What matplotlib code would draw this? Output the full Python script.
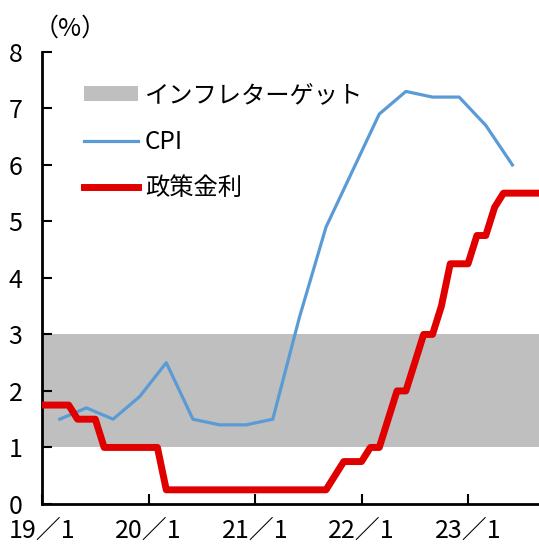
import matplotlib.pyplot as plt
from matplotlib.patches import Patch
from matplotlib.lines import Line2D

plt.rcParams['font.family'] = ['Noto Sans CJK JP', 'DejaVu Sans']

# months counted from 2019/1 (= 0)
cpi_month = [2, 5, 8, 11, 14, 17, 20, 23, 26, 29, 32, 35, 38, 41, 44, 47, 50, 53]
cpi = [1.5, 1.7, 1.5, 1.9, 2.5, 1.5, 1.4, 1.4, 1.5, 3.3, 4.9, 5.9,
       6.9, 7.3, 7.2, 7.2, 6.7, 6.0]

# policy rate, monthly 2019/1 - 2023/9
rate = [1.75, 1.75, 1.75, 1.75, 1.5, 1.5, 1.5, 1.0, 1.0, 1.0, 1.0, 1.0,
        1.0, 1.0, 0.25, 0.25, 0.25, 0.25, 0.25, 0.25, 0.25, 0.25, 0.25, 0.25,
        0.25, 0.25, 0.25, 0.25, 0.25, 0.25, 0.25, 0.25, 0.25, 0.5, 0.75, 0.75,
        0.75, 1.0, 1.0, 1.5, 2.0, 2.0, 2.5, 3.0, 3.0, 3.5, 4.25, 4.25,
        4.25, 4.75, 4.75, 5.25, 5.5, 5.5, 5.5, 5.5, 5.5]
rate_month = list(range(len(rate)))

target_low, target_high = 1, 3
tick_pos = [0, 12, 24, 36, 48]
tick_labels = ['19／1', '20／1', '21／1', '22／1', '23／1']

fig = plt.figure(figsize=(5.39, 5.46), dpi=100)
ax = fig.add_axes([0.078, 0.077, 0.922, 0.828])

ax.axhspan(target_low, target_high, color='#bfbfbf', lw=0, zorder=1)
ax.plot(cpi_month, cpi, color='#5b9bd5', lw=2.3, zorder=3)
ax.plot(rate_month, rate, color='#e00000', lw=5, zorder=4)

ax.set_xlim(0, 56)
ax.set_ylim(0, 8)
ax.set_xticks(tick_pos)
ax.set_xticklabels(tick_labels)
ax.set_yticks(range(0, 9))
ax.tick_params(direction='in', length=7, width=1.5, labelsize=18, pad=10)
ax.tick_params(axis='y', pad=14)
for s in ['top', 'right']:
    ax.spines[s].set_visible(False)
for s in ['left', 'bottom']:
    ax.spines[s].set_linewidth(2)

fig.text(0.062, 0.948, '（%）', fontsize=18, ha='left', va='center')

handles = [Patch(facecolor='#bfbfbf', edgecolor='none'),
           Line2D([], [], color='#5b9bd5', lw=2.3),
           Line2D([], [], color='#e00000', lw=5)]
labels = ['インフレターゲット', 'CPI', '政策金利']
ax.legend(handles, labels, loc='upper left', bbox_to_anchor=(0.065, 0.955),
          frameon=False, fontsize=17.5, handlelength=2.2, handleheight=0.55,
          handletextpad=0.3, labelspacing=0.85, borderaxespad=0)

fig.savefig('out.png', dpi=100)
